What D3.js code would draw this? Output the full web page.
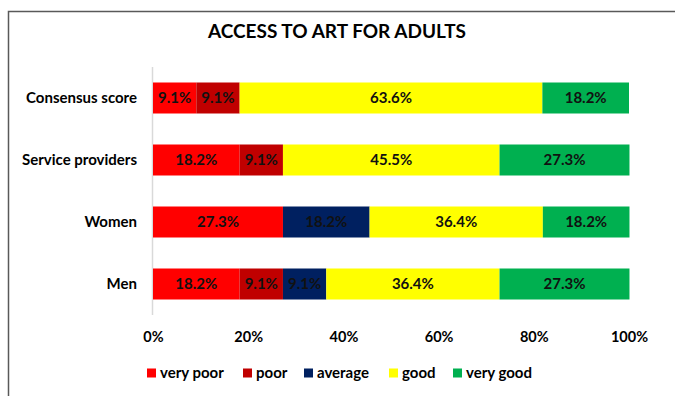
<!DOCTYPE html>
<html>
<head>
<meta charset="utf-8">
<script src="https://cdn.jsdelivr.net/npm/d3@7"></script>
<style>
  html, body { margin: 0; padding: 0; background: #fff; }
  svg { display: block; font-family: Lato, "Open Sans", sans-serif; }
</style>
</head>
<body>
<svg id="chart" width="675" height="396"></svg>
<script>
// Rating categories (stack order) and their fills
const ratings = ["very poor", "poor", "average", "good", "very good"];
const ratingColors = ["#FF0000", "#C00000", "#002060", "#FFFF00", "#00B050"];

// Respondent groups, top to bottom
const groups = ["Consensus score", "Service providers", "Women", "Men"];

// Share of each rating per group (%), ordered as in `ratings`
const veryPoor = [9.1, 18.2, 27.3, 18.2];
const poor     = [9.1, 9.1, 0, 9.1];
const average  = [0, 0, 18.2, 9.1];
const good     = [63.6, 45.5, 36.4, 36.4];
const veryGood = [18.2, 27.3, 18.2, 27.3];

const xTicks = [0, 20, 40, 60, 80, 100];
const xTickLabels = ["0%", "20%", "40%", "60%", "80%", "100%"];

const series = [veryPoor, poor, average, good, veryGood];
const rows = groups.map((g, i) => {
  const r = { group: g };
  ratings.forEach((k, j) => { r[k] = series[j][i]; });
  return r;
});

const svg = d3.select("#chart");
const fontFam = "Lato, 'Open Sans', sans-serif";

// outer frame
svg.append("rect")
  .attr("x", 8.5).attr("y", 11.5)
  .attr("width", 700).attr("height", 420)
  .attr("fill", "none").attr("stroke", "#595959").attr("stroke-width", 1.5);

// title
svg.append("text")
  .attr("x", 337).attr("y", 38)
  .attr("text-anchor", "middle")
  .attr("font-size", 19).attr("font-weight", "bold").attr("fill", "#000")
  .text("ACCESS TO ART FOR ADULTS");

const x = d3.scaleLinear().domain([0, 100]).range([153, 629]);
const y = d3.scaleBand().domain(groups).range([67, 315]).paddingInner(0.5).paddingOuter(0.25);

const stack = d3.stack().keys(ratings)(rows);

// vertical category axis line
svg.append("line")
  .attr("x1", x(0) - 0.5).attr("x2", x(0) - 0.5)
  .attr("y1", 67).attr("y2", 315)
  .attr("stroke", "#D9D9D9").attr("stroke-width", 1.5);

const layers = svg.append("g").selectAll("g")
  .data(stack).join("g")
  .attr("fill", (d, i) => ratingColors[i]);

layers.selectAll("rect")
  .data(d => d.filter(s => s[1] - s[0] > 0))
  .join("rect")
  .attr("x", d => x(d[0]))
  .attr("y", d => y(d.data.group))
  .attr("width", d => x(d[1]) - x(d[0]))
  .attr("height", y.bandwidth());

// value labels centred in each segment
layers.selectAll("text")
  .data(d => d.filter(s => s[1] - s[0] > 0))
  .join("text")
  .attr("x", d => (x(d[0]) + x(d[1])) / 2)
  .attr("y", d => y(d.data.group) + y.bandwidth() / 2)
  .attr("dy", "0.36em")
  .attr("text-anchor", "middle")
  .attr("font-size", 15).attr("font-weight", "bold")
  .attr("fill", "#111")
  .text(d => (d[1] - d[0]).toFixed(1) + "%");

// group labels
const yAxis = d3.axisLeft(y).tickSize(0).tickPadding(16);
svg.append("g")
  .attr("transform", `translate(${x(0)},0)`)
  .call(yAxis)
  .call(g => g.select(".domain").remove())
  .call(g => g.selectAll("text")
    .attr("font-size", 15).attr("font-weight", "bold").attr("fill", "#000")
    .attr("font-family", fontFam));

// percentage axis labels
const xAxis = d3.axisBottom(x).tickValues(xTicks)
  .tickFormat((d, i) => xTickLabels[i]).tickSize(0).tickPadding(0);
svg.append("g")
  .attr("transform", "translate(0,332)")
  .call(xAxis)
  .call(g => g.select(".domain").remove())
  .call(g => g.selectAll("text")
    .attr("font-size", 14.5).attr("font-weight", "bold").attr("fill", "#000")
    .attr("font-family", fontFam));

// legend
const legendX = [147, 243, 304, 389, 453];
const legend = svg.append("g").selectAll("g")
  .data(ratings).join("g")
  .attr("transform", (d, i) => `translate(${legendX[i]},373)`);
legend.append("rect")
  .attr("x", 0).attr("y", -4.5).attr("width", 9).attr("height", 9)
  .attr("fill", (d, i) => ratingColors[i]);
legend.append("text")
  .attr("x", 13).attr("dy", "0.36em")
  .attr("font-size", 15).attr("font-weight", "bold").attr("fill", "#000")
  .text(d => d);
</script>
</body>
</html>
